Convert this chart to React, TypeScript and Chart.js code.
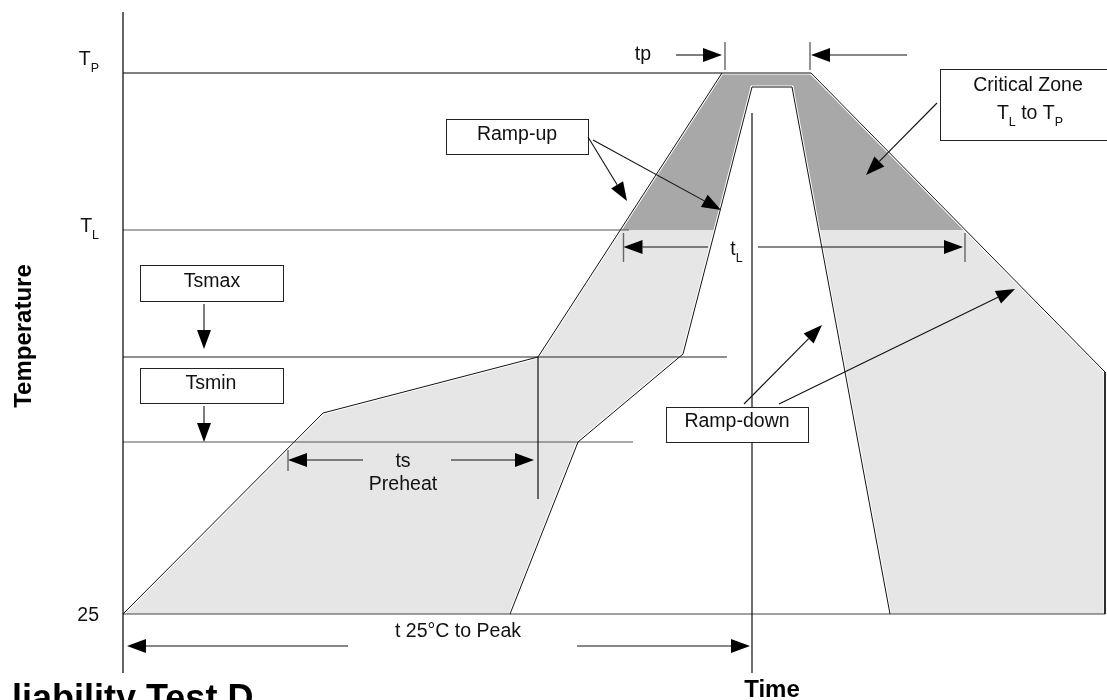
import React, { useEffect, useRef } from 'react';
import { Chart, registerables } from 'chart.js';

Chart.register(...registerables);

// ---------- scale ranges (time units, temperature units) ----------
const X_MIN = 0;
const X_MAX = 492;
const Y_MIN = -4.5;
const Y_MAX = 326;

// ---------- temperature levels ----------
const T_25 = 25;
const TS_MIN = 111;
const TS_MAX = 153.5;
const T_L = 217;
const T_P = 295.5;

// ---------- profiles [time, temperature] ----------
const outerProfile: [number, number][] = [
  [0, 25], [100, 125.5], [207.5, 153.5], [299.5, 295.5], [344, 295.5], [491, 146], [491, 25],
];
const innerProfile: [number, number][] = [
  [193.5, 25], [227.5, 111], [280, 155], [314.5, 288.5], [334.5, 288.5], [383.5, 25],
];

// ---------- horizontal level lines ----------
const levelValues = [T_P, T_L, TS_MAX, TS_MIN, T_25];
const levelEnds = [299.5, 253, 302, 255, 491];
const levelColors = ['#000', '#555', '#222', '#555', '#444'];

// ---------- vertical marker lines ----------
const markerX = [207.5, 314.5];
const markerTop = [TS_MAX, 275.5];
const markerBottom = [82.5, Y_MIN];

// ---------- dimension ticks ----------
const tickX = [301, 343.5, 250.25, 421, 82.5];
const tickTop = [311, 311, 215.5, 215.5, 107];
const tickBottom = [297, 297, 201, 201, 96.5];

// ---------- arrows (tail -> head) ----------
const arrowFrom: [number, number][] = [
  [276.5, 304.5], [392, 304.5], [292.5, 208.5], [317.5, 208.5], [120, 102], [164, 102],
  [112.5, 9], [227, 9], [40.5, 180], [40.5, 129], [232.5, 263.5], [235, 262],
  [407, 280.5], [310.5, 130], [328, 130],
];
const arrowTo: [number, number][] = [
  [299.5, 304.5], [344, 304.5], [250.25, 208.5], [420, 208.5], [82.5, 102], [205.5, 102],
  [2, 9], [313.5, 9], [40.5, 157.5], [40.5, 111], [252, 231.5], [299, 227],
  [371.5, 244.5], [349.5, 169.5], [446, 187.5],
];

// ---------- labelled boxes ----------
const boxLeft = [161.5, 8.5, 8.5, 271.5, 408.5];
const boxRight = [232.5, 80, 80, 342.5, 496];
const boxTop = [272.5, 199.5, 148, 128.5, 297.5];
const boxBottom = [255, 181.5, 130.5, 111, 262];

// ---------- texts ----------
type Part = { t: string; sub?: boolean };
const noteParts: Part[][] = [
  [{ t: 'Ramp-up' }],
  [{ t: 'Tsmax' }],
  [{ t: 'Tsmin' }],
  [{ t: 'Ramp-down' }],
  [{ t: 'Critical Zone' }],
  [{ t: 'T' }, { t: 'L', sub: true }, { t: ' to T' }, { t: 'P', sub: true }],
  [{ t: 'tp' }],
  [{ t: 't' }, { t: 'L', sub: true }],
  [{ t: 'ts' }],
  [{ t: 'Preheat' }],
  [{ t: 't 25°C to Peak' }],
];
const noteX = [197, 44.5, 44, 307, 452.5, 453.5, 260, 306.75, 140, 140, 167.5];
const noteY = [262, 188.6, 137.3, 118.6, 286.6, 272.3, 302, 204.5, 98.6, 87, 13.5];

const axisLabelValues = [T_P, T_L, T_25];
const axisLabelParts: Part[][] = [
  [{ t: 'T' }, { t: 'P', sub: true }],
  [{ t: 'T' }, { t: 'L', sub: true }],
  [{ t: '25' }],
];
const axisLabelDy = [-8, 2, 7];

const X_TITLE = 'Time';
const Y_TITLE = 'Temperature';
const FOOT_TEXT = 'liability Test D';

const FONT = '"Liberation Sans", Arial, Helvetica, sans-serif';
const TEXT_SIZE = 19.5;
const DARK = '#a8a8a8';
const LIGHT = '#e6e6e6';

// ---------- geometry helpers ----------
function crossings(poly: [number, number][], yv: number): number[] {
  const out: number[] = [];
  for (let i = 0; i < poly.length - 1; i++) {
    const [x0, y0] = poly[i];
    const [x1, y1] = poly[i + 1];
    if (y0 === y1) continue;
    if ((yv - y0) * (yv - y1) <= 0) {
      out.push(x0 + ((yv - y0) / (y1 - y0)) * (x1 - x0));
    }
  }
  return out;
}

const [oL, oR] = crossings(outerProfile, T_L);
const [iL, iR] = crossings(innerProfile, T_L);

const darkPoly: [number, number][] = [
  [oL, T_L],
  ...outerProfile.filter((p) => p[1] > T_L),
  [oR, T_L],
  [iR, T_L],
  ...innerProfile.filter((p) => p[1] > T_L).reverse(),
  [iL, T_L],
];
const leftLightPoly: [number, number][] = [
  ...outerProfile.filter((p) => p[1] < T_L && p[0] < oL),
  [oL, T_L],
  [iL, T_L],
  ...innerProfile.filter((p) => p[1] < T_L && p[0] < iL).reverse(),
];
const rightLightPoly: [number, number][] = [
  [iR, T_L],
  ...innerProfile.filter((p) => p[1] < T_L && p[0] > iR),
  ...outerProfile.filter((p) => p[1] < T_L && p[0] > oR).reverse(),
  [oR, T_L],
];

const pts = (a: [number, number][]) => a.map(([x, y]) => ({ x, y }));

function lineDs(points: [number, number][], color: string, width: number) {
  return {
    data: pts(points),
    borderColor: color,
    borderWidth: width,
    pointRadius: 0,
    fill: false,
    tension: 0,
    clip: false as any,
  };
}
function fillDs(points: [number, number][], color: string) {
  return {
    data: pts(points),
    borderColor: 'rgba(0,0,0,0)',
    backgroundColor: color,
    borderWidth: 1,
    pointRadius: 0,
    fill: 'shape',
    tension: 0,
    clip: false as any,
  };
}

function buildDatasets() {
  const ds: any[] = [];
  // top-most first (Chart.js draws index 0 last)
  ds.push(lineDs(outerProfile, '#111', 1));
  ds.push(lineDs(innerProfile, '#111', 1));
  markerX.forEach((x, i) => ds.push(lineDs([[x, markerTop[i]], [x, markerBottom[i]]], '#111', 1.2)));
  tickX.forEach((x, i) => ds.push(lineDs([[x, tickTop[i]], [x, tickBottom[i]]], '#666', 1.4)));
  levelValues.forEach((v, i) => ds.push(lineDs([[X_MIN, v], [levelEnds[i], v]], levelColors[i], 1.2)));
  ds.push(lineDs(outerProfile, '#fff', 3));
  ds.push(lineDs(innerProfile, '#fff', 3));
  ds.push(fillDs(darkPoly, DARK));
  ds.push(fillDs(leftLightPoly, LIGHT));
  ds.push(fillDs(rightLightPoly, LIGHT));
  return ds;
}

function drawRich(
  ctx: CanvasRenderingContext2D,
  parts: Part[],
  x: number,
  baseline: number,
  size: number,
  align: 'center' | 'right' | 'left',
) {
  const subSize = size * 0.64;
  const widths = parts.map((p) => {
    ctx.font = `${p.sub ? subSize : size}px ${FONT}`;
    return ctx.measureText(p.t).width;
  });
  const total = widths.reduce((a, b) => a + b, 0);
  let cx = align === 'center' ? x - total / 2 : align === 'right' ? x - total : x;
  ctx.textAlign = 'left';
  ctx.textBaseline = 'alphabetic';
  parts.forEach((p, i) => {
    ctx.font = `${p.sub ? subSize : size}px ${FONT}`;
    ctx.fillText(p.t, cx, p.sub ? baseline + size * 0.36 : baseline);
    cx += widths[i];
  });
}

const overlay = {
  id: 'overlay',
  afterDatasetsDraw(chart: any) {
    const ctx: CanvasRenderingContext2D = chart.ctx;
    const xs = chart.scales.x;
    const ys = chart.scales.y;
    const px = (v: number) => xs.getPixelForValue(v);
    const py = (v: number) => ys.getPixelForValue(v);
    ctx.save();

    // vertical axis
    ctx.strokeStyle = '#111';
    ctx.lineWidth = 1.3;
    ctx.beginPath();
    ctx.moveTo(px(X_MIN), py(Y_MIN));
    ctx.lineTo(px(X_MIN), py(Y_MAX));
    ctx.stroke();

    // boxes
    boxLeft.forEach((_, i) => {
      const x0 = Math.round(px(boxLeft[i])) + 0.5;
      const x1 = Math.round(px(boxRight[i])) + 0.5;
      const y0 = Math.round(py(boxTop[i])) + 0.5;
      const y1 = Math.round(py(boxBottom[i])) + 0.5;
      ctx.fillStyle = '#fff';
      ctx.fillRect(x0, y0, x1 - x0, y1 - y0);
      ctx.strokeStyle = '#222';
      ctx.lineWidth = 1;
      ctx.strokeRect(x0, y0, x1 - x0, y1 - y0);
    });

    // arrows
    arrowFrom.forEach((f, i) => {
      const t = arrowTo[i];
      const x0 = px(f[0]), y0 = py(f[1]);
      const x1 = px(t[0]), y1 = py(t[1]);
      const len = Math.hypot(x1 - x0, y1 - y0);
      const ux = (x1 - x0) / len, uy = (y1 - y0) / len;
      const hl = 19, hw = 7;
      const bx = x1 - ux * hl, by = y1 - uy * hl;
      ctx.strokeStyle = '#111';
      ctx.lineWidth = 1.1;
      ctx.beginPath();
      ctx.moveTo(x0, y0);
      ctx.lineTo(bx, by);
      ctx.stroke();
      ctx.fillStyle = '#000';
      ctx.beginPath();
      ctx.moveTo(x1, y1);
      ctx.lineTo(bx - uy * hw, by + ux * hw);
      ctx.lineTo(bx + uy * hw, by - ux * hw);
      ctx.closePath();
      ctx.fill();
    });

    // notes
    ctx.fillStyle = '#111';
    noteParts.forEach((parts, i) => {
      drawRich(ctx, parts, px(noteX[i]), py(noteY[i]), TEXT_SIZE, 'center');
    });

    // axis labels
    axisLabelParts.forEach((parts, i) => {
      drawRich(ctx, parts, px(X_MIN) - 24, py(axisLabelValues[i]) + axisLabelDy[i], TEXT_SIZE, 'right');
    });

    // titles
    ctx.fillStyle = '#000';
    ctx.font = `bold 24px ${FONT}`;
    ctx.textAlign = 'center';
    ctx.textBaseline = 'alphabetic';
    ctx.fillText(X_TITLE, 772, 697);
    ctx.save();
    ctx.translate(31, 336);
    ctx.rotate(-Math.PI / 2);
    ctx.fillText(Y_TITLE, 0, 0);
    ctx.restore();

    ctx.font = `bold 36px ${FONT}`;
    ctx.textAlign = 'left';
    ctx.fillText(FOOT_TEXT, 12, 710);

    ctx.restore();
  },
};

export default function App() {
  const ref = useRef<HTMLCanvasElement>(null);
  useEffect(() => {
    const chart = new Chart(ref.current as HTMLCanvasElement, {
      type: 'line',
      data: { datasets: buildDatasets() },
      options: {
        responsive: false,
        animation: false,
        devicePixelRatio: 1,
        events: [],
        layout: { padding: { left: 123, right: 0, top: 12, bottom: 27 } },
        plugins: {
          legend: { display: false },
          tooltip: { enabled: false },
          filler: { drawTime: 'beforeDatasetsDraw' } as any,
        },
        scales: {
          x: { type: 'linear', min: X_MIN, max: X_MAX, display: false },
          y: { type: 'linear', min: Y_MIN, max: Y_MAX, display: false },
        },
      },
      plugins: [overlay],
    } as any);
    return () => chart.destroy();
  }, []);
  return (
    <div style={{ position: 'fixed', left: 0, top: 0, width: 1107, height: 700, background: '#fff' }}>
      <canvas ref={ref} width={1107} height={700} style={{ display: 'block' }} />
    </div>
  );
}
